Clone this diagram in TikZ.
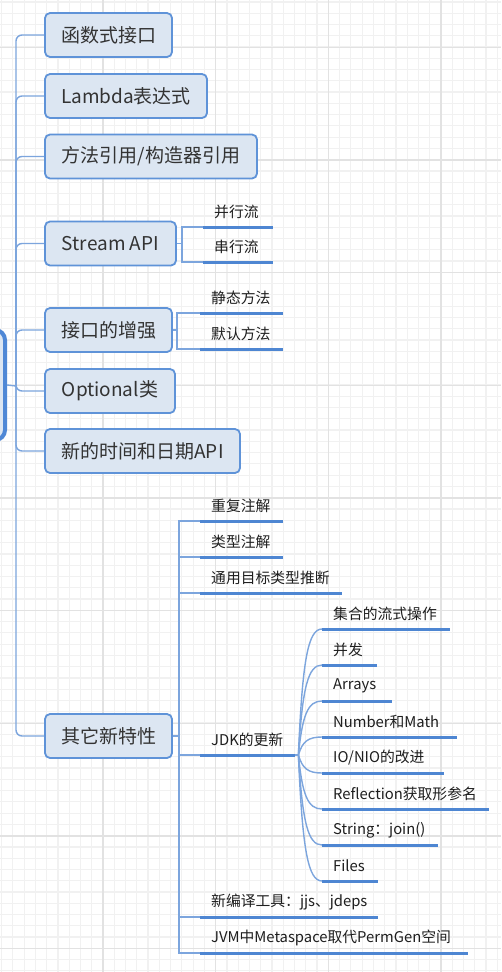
\documentclass[tikz,border=0pt]{standalone}
\usepackage{fontspec}
\newfontfamily\cjk{Noto Sans CJK SC}
\definecolor{gridminor}{HTML}{F1F1F1}
\definecolor{gridmajor}{HTML}{E2E2E2}
\definecolor{nodefill}{HTML}{DCE6F2}
\definecolor{nodeborder}{HTML}{5F93D8}
\definecolor{rootborder}{HTML}{4F88D6}
\definecolor{conncol}{HTML}{7CA5DD}
\definecolor{ulinecol}{HTML}{4E86D2}
\definecolor{maintext}{HTML}{333333}
\definecolor{subtext}{HTML}{1E1E1E}
\tikzset{
  mainnode/.style={draw=nodeborder, line width=1.8pt, fill=nodefill, rounded corners=5pt,
    minimum height=44pt, inner sep=0pt, font=\cjk\fontsize{19}{22}\selectfont, text=maintext},
  rootnode/.style={draw=rootborder, line width=4pt, fill=nodefill, rounded corners=10pt,
    minimum width=110pt, minimum height=110pt, inner sep=0pt},
  subitem/.style={anchor=south west, inner sep=0pt, minimum height=30pt, text width=#1,
    align=left, font=\cjk\fontsize{14.8}{17}\selectfont, text=subtext,
    execute at begin node={\hspace*{11pt}\hbox\bgroup}, execute at end node={\egroup}},
  uline/.style={draw=ulinecol, line width=3pt},
  conn/.style={draw=conncol, line width=1.4pt},
  gminor/.style={draw=gridminor, line width=1.2pt},
  gmajor/.style={draw=gridmajor, line width=1.3pt}
}
\begin{document}
\begin{tikzpicture}[x=1pt,y=-1pt]
\useasboundingbox (0,0) rectangle (501,972);
\fill[white] (0,0) rectangle (501,972);
% grid
\foreach \i in {0,...,44} \draw[gminor] (1.6+\i*11.267,0) -- ++(0,972);
\foreach \j in {0,...,86} \draw[gminor] (0,1.9+\j*11.267) -- ++(501,0);
\foreach \i in {0,...,3} \draw[gmajor] (103+\i*112.67,0) -- ++(0,972);
\foreach \j in {0,...,8} \draw[gmajor] (0,47.3+\j*112.67) -- ++(501,0);

% root (mostly outside the view)
\node[rootnode] (root) at (-50,385) {};

% main branches
\node[mainnode, minimum width=127pt] (n1) at (108.5,35) {函数式接口};
\node[mainnode, minimum width=162pt] (n2) at (126,96) {Lambda表达式};
\node[mainnode, minimum width=212pt] (n3) at (151,156.5) {方法引用/构造器引用};
\node[mainnode, minimum width=131pt] (n4) at (110.5,243.5) {Stream API};
\node[mainnode, minimum width=127pt] (n5) at (108.5,330) {接口的增强};
\node[mainnode, minimum width=130pt] (n6) at (110,391) {Optional类};
\node[mainnode, minimum width=195pt] (n7) at (142.5,451) {新的时间和日期API};
\node[mainnode, minimum width=127pt] (n8) at (108.5,736) {其它新特性};

% sub items
\node[subitem=70pt] (s41) at (203,227) {并行流};
\node[subitem=70pt] (s42) at (203,262) {串行流};
\node[subitem=83pt] (s51) at (200,313) {静态方法};
\node[subitem=83pt] (s52) at (200,349) {默认方法};
\node[subitem=83pt] (s81) at (200,521) {重复注解};
\node[subitem=83pt] (s82) at (200,557) {类型注解};
\node[subitem=142pt] (s83) at (200,593) {通用目标类型推断};
\node[subitem=95pt] (jdk) at (200,755) {JDK的更新};
\node[subitem=178pt] (s85) at (200,917) {新编译工具：jjs、jdeps};
\node[subitem=268pt] (s86) at (200,953) {JVM中Metaspace取代PermGen空间};
\node[subitem=128pt] (k1) at (322,629) {集合的流式操作};
\node[subitem=55pt] (k2) at (322,665) {并发};
\node[subitem=70pt] (k3) at (322,701) {Arrays};
\node[subitem=135pt] (k4) at (322,737) {Number和Math};
\node[subitem=122pt] (k5) at (322,773) {IO/NIO的改进};
\node[subitem=167pt] (k6) at (322,809) {Reflection获取形参名};
\node[subitem=116pt] (k7) at (322,845) {String：join()};
\node[subitem=56pt] (k8) at (322,881) {Files};

% trunk connectors
\coordinate (hub) at (16,386);
\draw[conn] (root.east) -- (hub);
\foreach \n in {n1,n2,n3,n4,n5,n6,n7,n8}
  \draw[conn, rounded corners=6pt] (hub) |- (\n.west);

% sub connectors
\foreach \s in {s41,s42} \draw[conn] (n4.east) -- ++(5,0) |- (\s.south west);
\foreach \s in {s51,s52} \draw[conn] (n5.east) -- ++(4,0) |- (\s.south west);
\foreach \s in {s81,s82,s83,jdk,s85,s86} \draw[conn] (n8.east) -- ++(6,0) |- (\s.south west);

% JDK curves
\foreach \k/\d in {k1/-126,k2/-90,k3/-54,k4/-18,k5/18,k6/54,k7/90,k8/126}
  \draw[conn] (jdk.south east) -- ++(3,0) .. controls +(4,0.75*\d) and +(-14,0) .. (\k.south west);

% underlines
\foreach \s in {s41,s42,s51,s52,s81,s82,s83,jdk,s85,s86,k1,k2,k3,k4,k5,k6,k7,k8}
  \draw[uline] (\s.south west) -- (\s.south east);
\end{tikzpicture}
\end{document}
